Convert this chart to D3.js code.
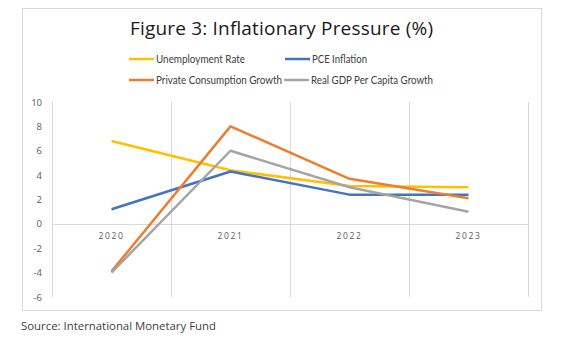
<!DOCTYPE html>
<html>
<head>
<meta charset="utf-8">
<script src="https://cdn.jsdelivr.net/npm/d3@7"></script>
<style>
  body { margin: 0; background: #fff; }
  svg { display: block; }
</style>
</head>
<body>
<svg id="chart" width="572" height="349"></svg>
<script>
// series values, one array per line
var years = ["2020", "2021", "2022", "2023"];
var unemployment = [6.8, 4.4, 3.1, 3.0];
var pceInflation = [1.2, 4.3, 2.4, 2.4];
var privateConsumption = [-3.9, 8.0, 3.7, 2.1];
var realGdpPerCapita = [-4.0, 6.0, 3.0, 1.0];
var yTicks = [-6, -4, -2, 0, 2, 4, 6, 8, 10];

var series = [
  { name: "Unemployment Rate", values: unemployment, color: "#FFC000" },
  { name: "PCE Inflation", values: pceInflation, color: "#4472C4" },
  { name: "Private Consumption Growth", values: privateConsumption, color: "#ED7D31" },
  { name: "Real GDP Per Capita Growth", values: realGdpPerCapita, color: "#A5A5A5" }
];

var svg = d3.select("#chart");

// outer chart frame
svg.append("rect")
  .attr("x", 22.5)
  .attr("y", 8.5)
  .attr("width", 519)
  .attr("height", 302)
  .attr("fill", "#fff")
  .attr("stroke", "#d9d9d9")
  .attr("stroke-width", 1);

svg.append("text")
  .attr("x", 130)
  .attr("y", 35)
  .attr("textLength", 303)
  .attr("lengthAdjust", "spacing")
  .attr("font-family", "'Open Sans', Lato, sans-serif")
  .attr("font-size", "19px")
  .attr("fill", "#1a1a1a")
  .text("Figure 3: Inflationary Pressure (%)");

var x = d3.scaleBand()
  .domain(years)
  .range([52, 528])
  .paddingInner(0)
  .paddingOuter(0);

var y = d3.scaleLinear()
  .domain([-6, 10])
  .range([297, 102]);

var grid = svg.append("g").attr("stroke", "#d9d9d9").attr("stroke-width", 1);

// vertical gridlines sit on the category boundaries
var bounds = years.map(function (d) { return x(d); }).concat([x.range()[1]]);
grid.selectAll("line.v")
  .data(bounds)
  .enter()
  .append("line")
  .attr("class", "v")
  .attr("x1", function (d) { return Math.round(d) + 0.5; })
  .attr("x2", function (d) { return Math.round(d) + 0.5; })
  .attr("y1", y(10))
  .attr("y2", y(-6));

// category axis at zero
grid.append("line")
  .attr("x1", x.range()[0])
  .attr("x2", x.range()[1])
  .attr("y1", Math.round(y(0)) + 0.5)
  .attr("y2", Math.round(y(0)) + 0.5);

// y axis labels, plain hyphen for negatives
var yAxis = svg.append("g")
  .attr("transform", "translate(42,0)")
  .call(d3.axisLeft(y).tickValues(yTicks).tickSize(0).tickPadding(0)
    .tickFormat(function (d) { return String(d); }));
yAxis.select(".domain").remove();
yAxis.selectAll("text")
  .attr("font-family", "'Open Sans', sans-serif")
  .attr("font-size", "9.5px")
  .attr("fill", "#595959");

// category labels just below zero
svg.append("g")
  .selectAll("text")
  .data(years)
  .enter()
  .append("text")
  .attr("x", function (d) { return x(d) + x.bandwidth() / 2; })
  .attr("y", y(0) + 15)
  .attr("text-anchor", "middle")
  .attr("font-family", "'Open Sans', sans-serif")
  .attr("font-size", "8.5px")
  .attr("letter-spacing", "1.6px")
  .attr("fill", "#595959")
  .text(function (d) { return d; });

var line = d3.line()
  .x(function (d, i) { return x(years[i]) + x.bandwidth() / 2; })
  .y(function (d) { return y(d); });

svg.append("g")
  .selectAll("path")
  .data(series)
  .enter()
  .append("path")
  .attr("d", function (d) { return line(d.values); })
  .attr("fill", "none")
  .attr("stroke", function (d) { return d.color; })
  .attr("stroke-width", 2.5)
  .attr("stroke-linejoin", "round");

// legend, two rows of two
var legendPos = [
  { x: 129, y: 59, w: 89 },
  { x: 285, y: 59, w: 55 },
  { x: 129, y: 80, w: 126 },
  { x: 284, y: 80, w: 122 }
];
var legend = svg.append("g")
  .selectAll("g")
  .data(series)
  .enter()
  .append("g")
  .attr("transform", function (d, i) {
    return "translate(" + legendPos[i].x + "," + legendPos[i].y + ")";
  });

legend.append("line")
  .attr("x1", 0)
  .attr("x2", 25)
  .attr("y1", 0)
  .attr("y2", 0)
  .attr("stroke", function (d) { return d.color; })
  .attr("stroke-width", 2.5);

legend.append("text")
  .attr("x", 27)
  .attr("y", 3.5)
  .attr("textLength", function (d, i) { return legendPos[i].w; })
  .attr("lengthAdjust", "spacingAndGlyphs")
  .attr("font-family", "Lato, 'Open Sans', sans-serif")
  .attr("font-size", "10.5px")
  .attr("fill", "#404040")
  .text(function (d) { return d.name; });

svg.append("text")
  .attr("x", 21)
  .attr("y", 330)
  .attr("textLength", 195)
  .attr("lengthAdjust", "spacingAndGlyphs")
  .attr("font-family", "'Open Sans', sans-serif")
  .attr("font-size", "11.5px")
  .attr("fill", "#404040")
  .text("Source: International Monetary Fund");
</script>
</body>
</html>
